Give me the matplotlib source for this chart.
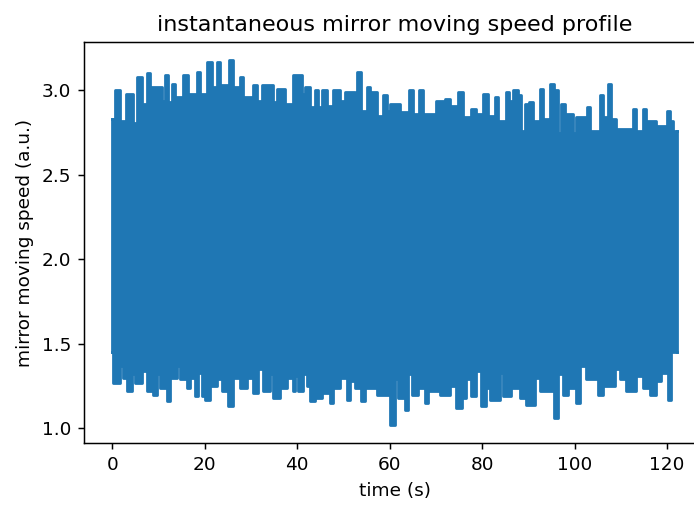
import matplotlib
matplotlib.use("Agg")
import matplotlib.pyplot as plt
import numpy as np

# Upper envelope of the speed signal (time in s, speed in a.u.)
time_upper = [0, 0.58, 1.66, 2.96, 4.54, 5.41, 6.36, 7.44, 8.15, 10.68, 11.39, 12.11, 12.84,
              13.56, 15.35, 16.43, 18.25, 18.96, 20.54, 21.49, 22.57, 23.29, 25.23, 26.16,
              27.61, 28.32, 30.49, 31.22, 32.30, 34.81, 35.55, 37.34, 39.14, 40.95, 41.66,
              42.75, 43.83, 44.54, 45.41, 46.36, 47.78, 49.23, 50.31, 52.48, 52.97, 53.71,
              55.00, 55.72, 57.30, 58.59, 59.33, 60.04, 62.21, 64.22, 65.08, 66.38, 67.24,
              70.14, 71.94, 73.02, 74.81, 75.89, 77.71, 78.79, 80.22, 81.30, 82.75, 83.46,
              85.12, 85.84, 86.70, 87.78, 88.52, 89.23, 90.16, 91.03, 92.48, 93.19, 94.79,
              95.50, 96.43, 97.17, 97.88, 99.68, 100.41, 102.70, 103.44, 105.45, 106.16,
              107.24, 107.98, 109.06, 112.65, 113.38, 114.81, 115.55, 117.71, 120.00,
              120.74, 121.30, 122.25]
speed_upper = [2.83, 3.00, 2.82, 2.98, 2.81, 3.08, 2.92, 3.10, 3.02, 2.94, 3.09, 2.93, 3.04,
               2.96, 3.09, 2.98, 3.11, 2.98, 3.17, 3.02, 3.17, 3.03, 3.18, 3.02,
               3.08, 2.96, 3.03, 2.94, 3.03, 2.93, 3.01, 2.92, 3.09, 2.98, 3.02,
               2.90, 3.00, 2.90, 3.00, 2.91, 3.00, 2.94, 2.99, 2.94, 3.11, 2.88,
               3.02, 2.99, 2.85, 2.97, 2.88, 2.92, 2.87, 3.00, 2.86, 3.00, 2.86,
               2.94, 2.95, 2.91, 2.99, 2.84, 2.89, 2.86, 2.98, 2.85, 2.96, 2.82,
               2.99, 2.94, 3.00, 2.97, 2.76, 2.92, 2.93, 2.82, 3.01, 2.83, 3.04,
               3.00, 2.75, 2.92, 2.86, 2.75, 2.84, 2.90, 2.76, 2.97, 2.84,
               3.04, 2.83, 2.77, 2.89, 2.76, 2.89, 2.82, 2.79, 2.88,
               2.82, 2.76, 2.76]

# Lower envelope of the speed signal
time_lower = [0, 0.22, 1.66, 2.38, 3.11, 4.19, 4.91, 6.36, 7.44, 8.86, 9.73, 10.31, 11.76,
              12.48, 14.05, 14.64, 16.09, 16.80, 17.88, 18.59, 19.33, 20.04, 21.12, 22.57,
              23.65, 25.08, 26.16, 27.61, 29.06, 30.49, 31.57, 32.65, 34.10, 34.81, 36.26,
              37.71, 39.14, 39.50, 40.22, 41.30, 42.03, 42.75, 43.83, 45.28, 47.07, 47.78,
              49.23, 50.68, 51.39, 52.48, 53.71, 54.64, 57.17, 60.04, 61.12, 61.84, 63.28,
              64.00, 64.74, 66.16, 67.61, 68.32, 70.85, 73.02, 74.46, 75.55, 76.63, 77.71,
              78.79, 79.87, 80.95, 81.66, 83.83, 84.54, 86.36, 88.15, 89.23, 89.60, 91.39,
              92.48, 95.50, 96.43, 97.51, 98.59, 100.41, 101.12, 102.57, 105.08, 106.16,
              108.69, 109.77, 111.22, 113.38, 114.81, 116.26, 117.71, 118.79, 120.22,
              120.95, 122.25]
speed_lower = [1.45, 1.27, 1.37, 1.30, 1.22, 1.32, 1.27, 1.34, 1.22, 1.20, 1.32, 1.24, 1.16,
               1.30, 1.37, 1.29, 1.24, 1.30, 1.19, 1.33, 1.19, 1.17, 1.25, 1.29,
               1.22, 1.13, 1.30, 1.24, 1.30, 1.21, 1.35, 1.22, 1.32, 1.18, 1.24,
               1.30, 1.22, 1.31, 1.22, 1.32, 1.25, 1.16, 1.18, 1.21, 1.15, 1.24,
               1.30, 1.17, 1.28, 1.24, 1.16, 1.24, 1.20, 1.02, 1.29, 1.18, 1.11,
               1.32, 1.20, 1.24, 1.15, 1.22, 1.20, 1.25, 1.12, 1.18, 1.29, 1.19,
               1.34, 1.13, 1.24, 1.17, 1.33, 1.19, 1.24, 1.18, 1.32, 1.14, 1.30,
               1.22, 1.06, 1.32, 1.20, 1.24, 1.15, 1.37, 1.29, 1.20, 1.25,
               1.35, 1.29, 1.22, 1.31, 1.24, 1.20, 1.28, 1.33, 1.17,
               1.45, 1.45]

title = "instantaneous mirror moving speed profile"
xlabel = "time (s)"
ylabel = "mirror moving speed (a.u.)"
xticks = [0, 20, 40, 60, 80, 100, 120]
yticks = [1.0, 1.5, 2.0, 2.5, 3.0]

color = "#1f77b4"
DPI = 133.33

fig = plt.figure(figsize=(694 / DPI, 505 / DPI), dpi=DPI)
ax = fig.add_axes([0.1210, 0.1222, 0.8958, 0.7952])

# the dense oscillation fills the band between the two envelopes
t_all = np.union1d(time_upper, time_lower)
up_idx = np.searchsorted(time_upper, t_all, side="right") - 1
lo_idx = np.searchsorted(time_lower, t_all, side="right") - 1
up_vals = np.array(speed_upper)[up_idx]
lo_vals = np.array(speed_lower)[lo_idx]
ax.fill_between(t_all, lo_vals, up_vals, step="post", color=color, lw=0)
ax.plot(time_upper, speed_upper, drawstyle="steps-post", color=color, lw=1.5)
ax.plot(time_lower, speed_lower, drawstyle="steps-post", color=color, lw=1.5)
ax.plot([time_upper[0], time_upper[0]], [speed_lower[0], speed_upper[0]], color=color, lw=1.5)
ax.plot([time_upper[-1], time_upper[-1]], [speed_lower[-1], speed_upper[-1]], color=color, lw=1.5)

ax.set_title(title)
ax.set_xlabel(xlabel)
ax.set_ylabel(ylabel)
ax.set_xticks(xticks)
ax.set_yticks(yticks)

fig.savefig("out.png", dpi=DPI)
